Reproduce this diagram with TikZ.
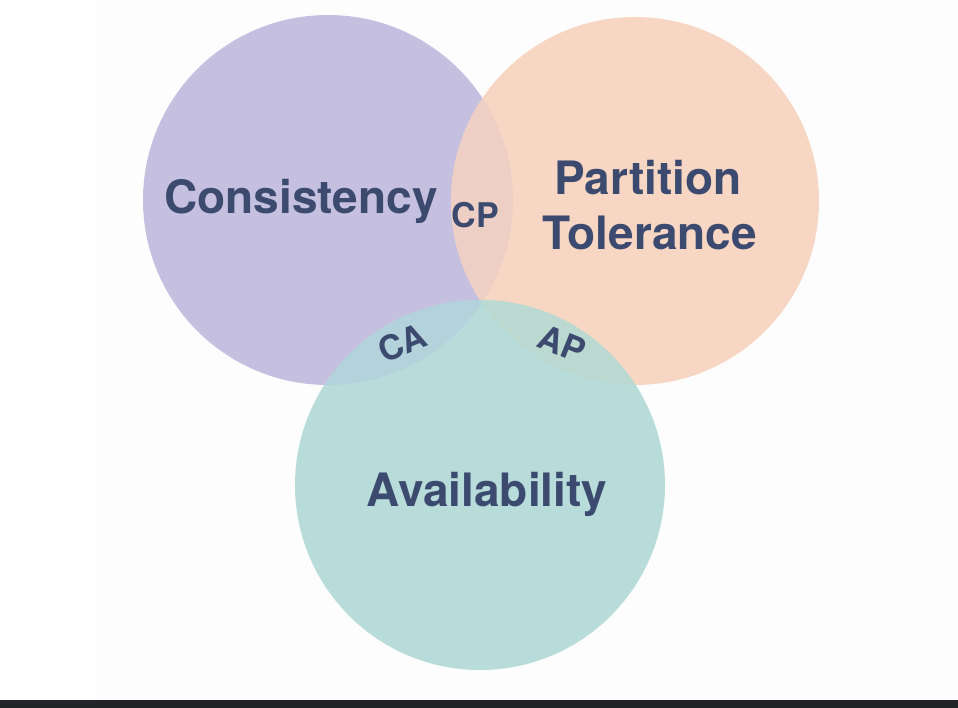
\documentclass[tikz,border=0pt]{standalone}
\usepackage{fontspec}
\setmainfont{TeX Gyre Heros}
\definecolor{cpurple}{HTML}{C5C0E0}
\definecolor{cpeach}{HTML}{F7D7C4}
\definecolor{cteal}{HTML}{B7DCDA}
\definecolor{colcp}{HTML}{EDCFC6}
\definecolor{colca}{HTML}{B3D2DB}
\definecolor{colap}{HTML}{BCD9D1}
\definecolor{colcap}{HTML}{B5D7D6}
\definecolor{ctext}{HTML}{3B4A6E}
\definecolor{cbg}{HTML}{FDFDFE}
\definecolor{cbar}{HTML}{232427}
\tikzset{
  big/.style={text=ctext, font=\fontsize{46}{55}\selectfont\bfseries, inner sep=0pt},
  small/.style={text=ctext, font=\fontsize{34}{40}\selectfont\bfseries, inner sep=0pt},
}
\begin{document}
\begin{tikzpicture}[x=1pt,y=-1pt]
\useasboundingbox (0,0) rectangle (958,708);
\fill[white] (0,0) rectangle (958,708);
\fill[cbg] (97,0) rectangle (958,700);
\fill[cbar] (0,700) rectangle (958,708);
% circles
\coordinate (Cc) at (328,200);
\coordinate (Pc) at (635,201);
\coordinate (Ac) at (480,485);
\fill[cpurple] (Cc) circle[radius=185];
\fill[cpeach] (Pc) circle[radius=184];
\fill[cteal] (Ac) circle[radius=185];
\begin{scope}
  \clip (Cc) circle[radius=185];
  \fill[colcp] (Pc) circle[radius=184];
  \fill[colca] (Ac) circle[radius=185];
\end{scope}
\begin{scope}
  \clip (Pc) circle[radius=184];
  \fill[colap] (Ac) circle[radius=185];
  \clip (Cc) circle[radius=185];
  \fill[colcap] (Ac) circle[radius=185];
\end{scope}
% labels
\node[big, anchor=base] (cons) at (301,214) {Consistency};
\node[big, anchor=base] (part) at (648,195) {Partition};
\node[big, anchor=base] (tol) at (650,250) {Tolerance};
\node[big, anchor=base] (avail) at (487,506) {Availability};
\node[small, anchor=base] (cp) at (475.5,228) {CP};
\node[small, rotate=22] (ca) at (402,343) {CA};
\node[small, rotate=-22] (ap) at (562,344) {AP};
\end{tikzpicture}
\end{document}
